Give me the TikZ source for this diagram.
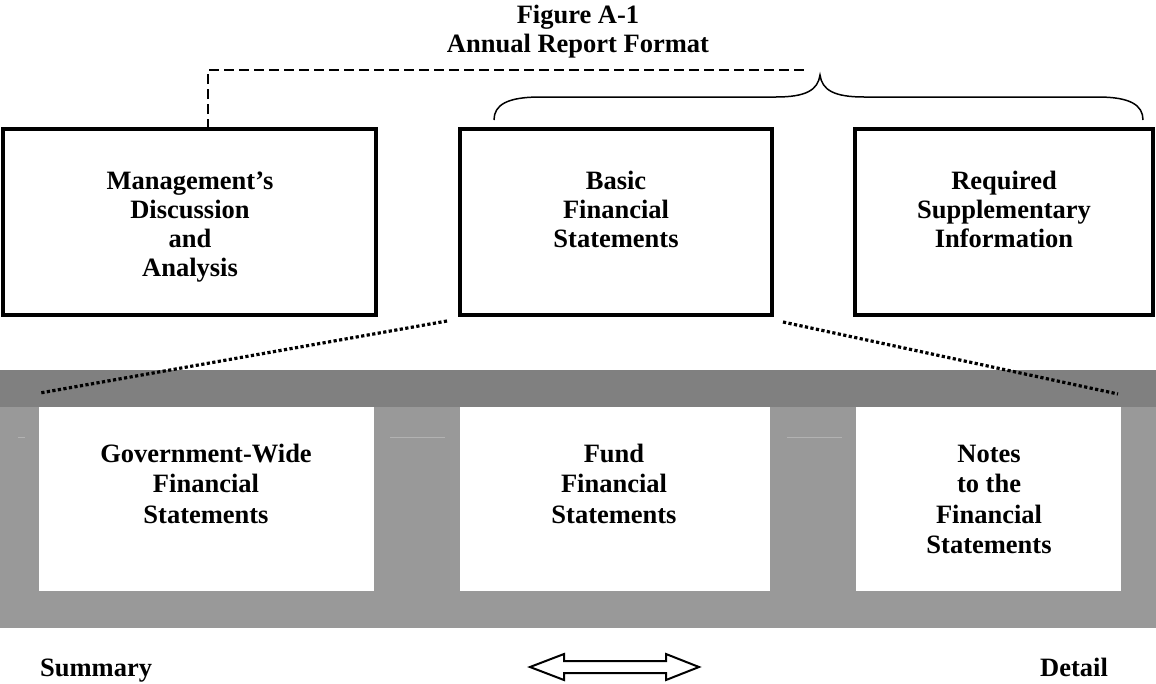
\documentclass[tikz,border=0pt]{standalone}
\usepackage{fontspec}
\setmainfont{Liberation Serif}
\usetikzlibrary{calc}
\definecolor{banddark}{HTML}{808080}
\definecolor{bandlight}{HTML}{999999}
\definecolor{faintline}{HTML}{B2B2B2}
\begin{document}
\begin{tikzpicture}[x=1pt,y=-1pt,
  lbl/.style={font=\fontsize{26.5}{29}\selectfont\bfseries, align=center, inner sep=0pt, anchor=base},
  lblb/.style={lbl, font=\fontsize{26.5}{30.5}\selectfont\bfseries},
  ttl/.style={font=\fontsize{26.5}{29}\selectfont\bfseries, align=center, inner sep=0pt, anchor=base},
  topbox/.style={draw, line width=3.8pt, inner sep=0pt, outer sep=0pt, minimum height=186pt},
  panel/.style={fill=white, inner sep=0pt, outer sep=0pt, minimum height=184pt},
  dashline/.style={line width=2pt, dash pattern=on 10pt off 5pt},
  dotline/.style={line width=3.2pt, dash pattern=on 3.2pt off 2.4pt},
  bracepath/.style={line width=1.5pt},
  dblarrow/.style={line width=2pt, fill=white, line join=miter}
]
\useasboundingbox (0,0) rectangle (1156,683);
\fill[white] (0,0) rectangle (1156,683);

% title (base anchor = baseline of last line)
\node[ttl] (title) at (578,52) {Figure A-1\\Annual Report Format};

% top boxes
\node[topbox, minimum width=373pt] (mda) at (189.5,222) {};
\node[topbox, minimum width=312pt] (bfs) at (616,222) {};
\node[topbox, minimum width=298pt] (rsi) at (1004,222) {};
\node[lbl] (mdaT) at (190,276) {Management’s\\Discussion\\and\\Analysis};
\node[lbl] (bfsT) at (616,247) {Basic\\Financial\\Statements};
\node[lbl] (rsiT) at (1004,247) {Required\\Supplementary\\Information};

% dashed connector from MD&A
\coordinate (dA) at (208,70);
\coordinate (dB) at (806,70);
\draw[dashline] (mda.north -| dA) -- (dA) -- (dB);

% brace over basic statements and RSI
\coordinate (bL) at (494,120);
\coordinate (bTip) at (820,75);
\coordinate (bR) at (1143,120);
\draw[bracepath] (bL) .. controls (494,105) and (507,97) .. (540,97)
  -- (776,97) .. controls (806,97) and (818,90) .. (bTip)
  .. controls (822,90) and (834,97) .. (864,97)
  -- (1098,97) .. controls (1130,97) and (1143,105) .. (bR);

% gray band structure
\fill[bandlight] (0,370) rectangle (1156,628);
\fill[banddark] (0,370) rectangle (1156,407);
\node[panel, minimum width=335pt] (gw) at (206.5,499) {};
\node[panel, minimum width=310pt] (fund) at (615,499) {};
\node[panel, minimum width=265pt] (notes) at (988.5,499) {};
\draw[faintline, line width=0.8pt] (18,437) -- (25,437) (390,437) -- (445,437) (787,437) -- (842,437);

\node[lblb] (gwT) at (206,523) {Government-Wide\\Financial\\Statements};
\node[lblb] (fundT) at (614,523) {Fund\\Financial\\Statements};
\node[lblb] (notesT) at (989,553.5) {Notes\\to the\\Financial\\Statements};

% dotted expansion lines
\coordinate (eL) at (447,321);
\coordinate (eR) at (783,322);
\coordinate (gL) at (40,393);
\coordinate (gR) at (1118,394);
\draw[dotline] (eL) -- (gL);
\draw[dotline] (eR) -- (gR);

% bottom labels and double arrow
\node[lbl, anchor=base west] (sum) at (40,676) {Summary};
\node[lbl] (det) at (1074,676) {Detail};
\draw[dblarrow] (530,667) -- (564,654) -- (564,661) -- (666,661) -- (666,654)
  -- (699,667) -- (666,680) -- (666,673) -- (564,673) -- (564,680) -- cycle;
\end{tikzpicture}
\end{document}
